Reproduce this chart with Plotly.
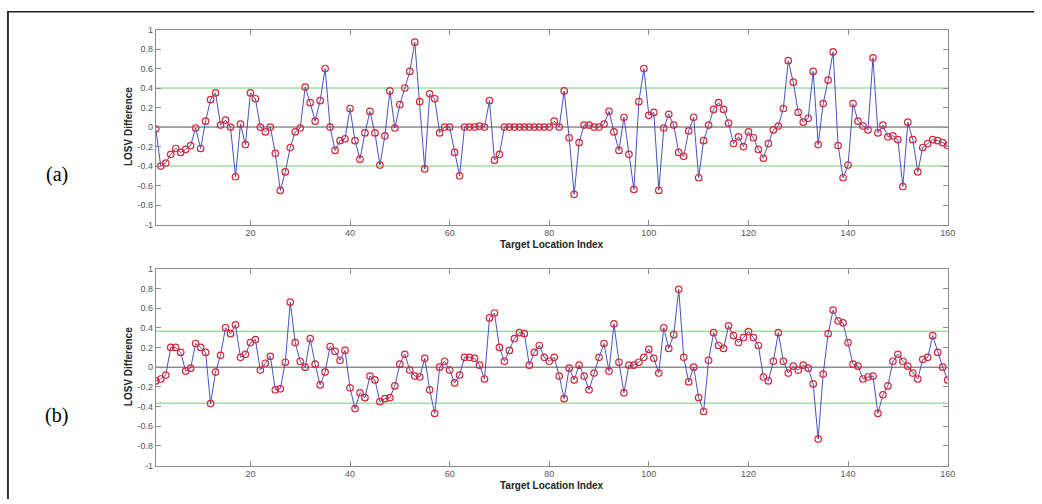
import plotly.graph_objects as go

idx = list(range(1, 161))

losv_a = [
    -0.02, -0.40, -0.37, -0.28, -0.22, -0.26, -0.23, -0.19, -0.01, -0.22,
    0.06, 0.28, 0.35, 0.02, 0.07, 0.00, -0.51, 0.03, -0.18, 0.35,
    0.29, 0.00, -0.05, 0.00, -0.27, -0.65, -0.46, -0.21, -0.05, -0.01,
    0.41, 0.25, 0.06, 0.27, 0.60, 0.00, -0.24, -0.14, -0.12, 0.19,
    -0.14, -0.33, -0.06, 0.16, -0.06, -0.39, -0.09, 0.37, -0.01, 0.23,
    0.40, 0.57, 0.87, 0.26, -0.43, 0.34, 0.29, -0.06, 0.00, 0.00,
    -0.26, -0.50, 0.00, 0.00, 0.00, 0.01, 0.00, 0.27, -0.34, -0.28,
    0.00, 0.00, 0.00, 0.00, 0.00, 0.00, 0.00, 0.00, 0.00, 0.00,
    0.06, 0.00, 0.37, -0.11, -0.69, -0.16, 0.02, 0.02, 0.00, 0.00,
    0.03, 0.16, -0.05, -0.24, 0.10, -0.28, -0.64, 0.26, 0.60, 0.12,
    0.15, -0.65, -0.01, 0.13, 0.02, -0.26, -0.30, -0.04, 0.10, -0.52,
    -0.14, 0.02, 0.18, 0.25, 0.18, 0.04, -0.17, -0.10, -0.20, -0.05,
    -0.11, -0.23, -0.32, -0.17, -0.03, 0.01, 0.19, 0.68, 0.46, 0.15,
    0.05, 0.09, 0.57, -0.18, 0.24, 0.48, 0.77, -0.19, -0.52, -0.39,
    0.24, 0.06, 0.01, -0.03, 0.71, -0.06, 0.02, -0.10, -0.09, -0.13,
    -0.61, 0.05, -0.13, -0.46, -0.21, -0.17, -0.13, -0.14, -0.16, -0.19,
]

losv_b = [
    -0.14, -0.12, -0.08, 0.20, 0.20, 0.15, -0.04, -0.01, 0.24, 0.20,
    0.15, -0.37, -0.05, 0.12, 0.40, 0.34, 0.43, 0.10, 0.13, 0.25,
    0.28, -0.03, 0.04, 0.11, -0.23, -0.22, 0.05, 0.66, 0.25, 0.06,
    0.00, 0.29, 0.03, -0.18, -0.05, 0.21, 0.16, 0.07, 0.17, -0.21,
    -0.42, -0.26, -0.31, -0.09, -0.13, -0.35, -0.32, -0.31, -0.19, 0.03,
    0.13, -0.03, -0.09, -0.10, 0.09, -0.23, -0.47, 0.00, 0.06, -0.03,
    -0.16, -0.08, 0.10, 0.10, 0.09, 0.02, -0.12, 0.50, 0.55, 0.20,
    0.06, 0.17, 0.29, 0.35, 0.34, 0.02, 0.15, 0.22, 0.10, 0.06,
    0.10, -0.09, -0.32, -0.01, -0.13, 0.02, -0.09, -0.23, -0.06, 0.10,
    0.24, -0.04, 0.44, 0.05, -0.26, 0.02, 0.02, 0.05, 0.10, 0.18,
    0.09, -0.06, 0.40, 0.19, 0.33, 0.79, 0.10, -0.15, 0.00, -0.31,
    -0.45, 0.07, 0.35, 0.22, 0.19, 0.42, 0.32, 0.25, 0.30, 0.36,
    0.30, 0.22, -0.10, -0.14, 0.06, 0.35, 0.06, -0.06, 0.01, -0.03,
    0.02, -0.01, -0.17, -0.73, -0.07, 0.34, 0.58, 0.47, 0.45, 0.25,
    0.03, 0.01, -0.12, -0.10, -0.09, -0.47, -0.28, -0.19, 0.06, 0.13,
    0.06, 0.01, -0.06, -0.12, 0.08, 0.10, 0.32, 0.15, 0.00, -0.13,
]

threshold_a = 0.40
threshold_b = 0.365
y_ticks = [-1, -0.8, -0.6, -0.4, -0.2, 0, 0.2, 0.4, 0.6, 0.8, 1]
y_tick_text = ["-1", "-0.8", "-0.6", "-0.4", "-0.2", "0", "0.2", "0.4", "0.6", "0.8", "1"]
x_ticks = [20, 40, 60, 80, 100, 120, 140, 160]

W, H = 1042, 504
L, R = 157, 955
A_TOP, A_BOT = 25, 224
B_TOP, B_BOT = 269, 470


def py(p):
    return 1 - p / H


fig = go.Figure()

line_col = "#3040b8"
mk_col = "#d8283a"

for data, xa, ya in [(losv_a, "x", "y"), (losv_b, "x2", "y2")]:
    fig.add_trace(go.Scatter(
        x=idx, y=data, xaxis=xa, yaxis=ya, mode="lines+markers",
        line=dict(color=line_col, width=0.9),
        marker=dict(symbol="circle-open", size=6.5, color=mk_col,
                    line=dict(width=1.2, color=mk_col)),
        showlegend=False, hoverinfo="x+y",
    ))

shapes = []
for xr, yr, th in [("x domain", "y", threshold_a), ("x2 domain", "y2", threshold_b)]:
    for v in (th, -th):
        shapes.append(dict(type="line", xref=xr, yref=yr, x0=0, x1=1, y0=v, y1=v,
                           line=dict(color="#6fcf6f", width=1), layer="below"))
    shapes.append(dict(type="line", xref=xr, yref=yr, x0=0, x1=1, y0=0, y1=0,
                       line=dict(color="#555555", width=1), layer="below"))

# outer frame (left and top edges visible)
shapes.append(dict(type="line", xref="paper", yref="paper",
                   x0=8 / W, x1=8 / W, y0=0, y1=py(6),
                   line=dict(color="#333333", width=2)))
shapes.append(dict(type="line", xref="paper", yref="paper",
                   x0=7 / W, x1=1, y0=py(7), y1=py(7),
                   line=dict(color="#222222", width=1.5)))

axis_common = dict(
    showline=True, linecolor="#8a8a8a", linewidth=1, mirror="ticks",
    ticks="inside", ticklen=5, tickcolor="#8a8a8a", showgrid=False, zeroline=False,
    tickfont=dict(family="Liberation Sans, Arial", size=9, color="#555555"),
)

fig.update_layout(
    width=W, height=H, margin=dict(l=0, r=0, t=0, b=0),
    paper_bgcolor="white", plot_bgcolor="white",
    xaxis=dict(domain=[L / W, R / W], range=[1, 160], tickvals=x_ticks,
               anchor="y", **axis_common),
    yaxis=dict(domain=[py(A_BOT), py(A_TOP)], range=[-1, 1], tickvals=y_ticks,
               ticktext=y_tick_text, anchor="x", **axis_common),
    xaxis2=dict(domain=[L / W, R / W], range=[1, 160], tickvals=x_ticks,
                anchor="y2", **axis_common),
    yaxis2=dict(domain=[py(B_BOT), py(B_TOP)], range=[-1, 1], tickvals=y_ticks,
                ticktext=y_tick_text, anchor="x2", **axis_common),
    shapes=shapes,
)

title_font = dict(family="Liberation Sans, Arial", size=10, color="#222222")
annotations = []
for top, bot in [(A_TOP, A_BOT), (B_TOP, B_BOT)]:
    annotations.append(dict(text="<b>Target Location Index</b>", xref="paper", yref="paper",
                            x=(L + R) / 2 / W, y=py(bot + 20), showarrow=False,
                            font=title_font, xanchor="center", yanchor="middle"))
    annotations.append(dict(text="<b>LOSV Difference</b>", xref="paper", yref="paper",
                            x=129 / W, y=py((top + bot) / 2), showarrow=False,
                            font=title_font, textangle=-90, xanchor="center", yanchor="middle"))
annotations.append(dict(text="(a)", xref="paper", yref="paper", x=57 / W, y=py(173),
                        showarrow=False, xanchor="center", yanchor="middle",
                        font=dict(family="Liberation Serif, Times New Roman", size=20, color="#000")))
annotations.append(dict(text="(b)", xref="paper", yref="paper", x=57 / W, y=py(419),
                        showarrow=False, xanchor="center", yanchor="middle",
                        font=dict(family="Liberation Serif, Times New Roman", size=20, color="#000")))
fig.update_layout(annotations=annotations)

fig.write_html("out.html", config={"displayModeBar": False},
               post_script="document.body.style.margin='0';document.body.style.overflow='hidden';")
